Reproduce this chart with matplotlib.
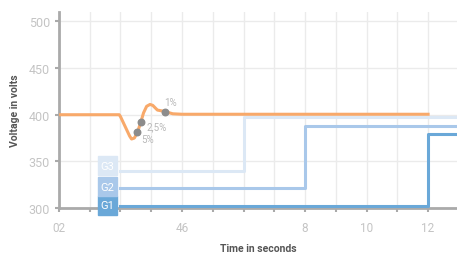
import matplotlib.pyplot as plt
from matplotlib.patches import Rectangle

plt.rcParams['font.family'] = ['Roboto', 'DejaVu Sans']

# voltage response (orange curve)
time = [0, 1.96, 2.0, 2.1, 2.2, 2.3, 2.36, 2.45, 2.55, 2.66, 2.75, 2.85, 2.96,
        3.05, 3.2, 3.45, 3.7, 4.0, 12]
voltage = [400, 400, 398, 391, 384, 377, 374, 375, 381, 392, 402, 409, 411,
           410, 405, 403.4, 401, 400.5, 400.5]

# settling markers
mark_t = [2.55, 2.66, 3.45]
mark_v = [381, 391.7, 403.4]
mark_labels = ['5%', '2,5%', '1%']

# generator steps
g_names = ['G1', 'G2', 'G3']
g_t = [[2, 12, 13], [2, 8, 13], [2, 6, 13]]
g_v = [[302, 379, 379], [321, 388, 388], [340, 398, 398]]
g_colors = ['#6aa8d8', '#a9c8ea', '#dce8f5']
g_box_y = [293, 313, 335.5]

x_ticks = list(range(0, 13))
x_labels = ['02', '', '', '', '46', '', '', '', '8', '', '10', '', '12']
y_ticks = [300, 350, 400, 450, 500]

fig = plt.figure(figsize=(4.57, 2.55), dpi=100)
ax = fig.add_axes([0.129, 0.18, 0.871, 0.769])

for t, v, c in zip(g_t, g_v, g_colors):
    ax.step(t, v, where='post', color=c, lw=2.2, zorder=3)

ax.plot(time, voltage, color='#f8a96a', lw=2.2, zorder=4)
ax.scatter(mark_t, mark_v, s=22, color='#8c8c8c', zorder=5)
offsets = [(3, -4.5, 'center'), (4.3, -3, 'center'), (-0.7, 3.6, 'bottom')]
for t, v, lab, (dx, dy, va) in zip(mark_t, mark_v, mark_labels, offsets):
    ax.annotate(lab, (t, v), xytext=(dx, dy), textcoords='offset points',
                fontsize=7, color='#b8b8b8', va=va)

for name, c, y0 in zip(g_names, g_colors, g_box_y):
    ax.add_patch(Rectangle((1.27, y0), 0.62, 20, color=c, clip_on=False, zorder=6))
    ax.text(1.58, y0 + 10, name, color='white', fontsize=8, ha='center',
            va='center', zorder=7)

ax.set_xlim(0, 12.94)
ax.set_ylim(300, 510)
ax.set_xticks(x_ticks)
ax.set_xticklabels(x_labels)
ax.set_yticks(y_ticks)
ax.grid(True, color='#ebebeb', lw=1)
ax.set_axisbelow(True)

for s in ['top', 'right']:
    ax.spines[s].set_visible(False)
for s in ['left', 'bottom']:
    ax.spines[s].set_color('#aaaaaa')
    ax.spines[s].set_linewidth(2)
ax.tick_params(colors='#aaaaaa', labelcolor='#c4c4c4', labelsize=9, length=3, width=1.5)
ax.tick_params(axis='x', labelsize=8.5, pad=6)

ax.set_ylabel('Voltage in volts', fontsize=7.5, fontweight='bold', color='#555555', labelpad=6)
ax.set_xlabel('Time in seconds', fontsize=7.5, fontweight='bold', color='#555555', labelpad=7)

fig.savefig('out.png', dpi=100)
